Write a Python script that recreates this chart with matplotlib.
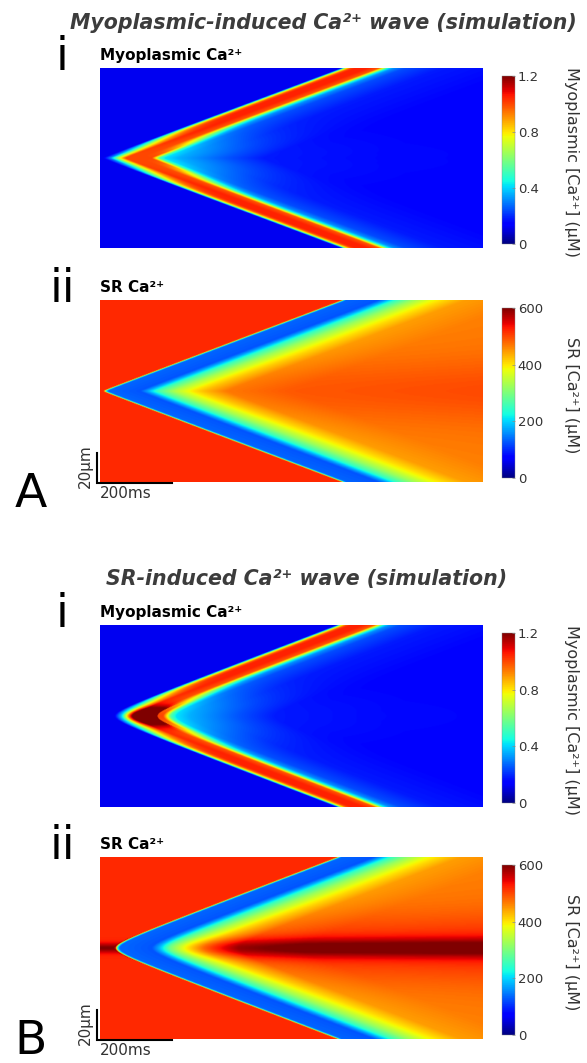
import numpy as np
import matplotlib
matplotlib.use("Agg")
import matplotlib.pyplot as plt

plt.rcParams['font.family'] = ['DejaVu Sans']

# ---- recording geometry ----
T_MS = 1020          # duration shown, ms
X_HALF = 60          # half length of the scanned line, um

# wave start / speed / tip rounding for panel A (myoplasmic) and B (SR)
WAVE_A = dict(t0=8., v=0.094, r=0.5)
WAVE_B = dict(t0=38., v=0.095, r=4.0)

# myoplasmic Ca2+ (uM) vs time after the front passes (ms)
MYO_TAU = [-2000, 0, 5, 13, 25, 37, 70, 101, 112, 125, 140, 170, 270, 500, 1100]
MYO_EDGE = [0.12, 0.12, 0.40, 0.75, 0.98, 1.05, 1.05, 0.98, 0.75, 0.45, 0.32,
            0.24, 0.18, 0.15, 0.14]
MYO_AXIS_TAU = [-2000, 0, 20, 45, 61, 130, 140, 150, 165, 200, 330, 430, 700, 1100]
MYO_AXIS = [0.12, 0.12, 0.30, 0.75, 1.00, 1.00, 0.80, 0.55, 0.42, 0.36, 0.25,
            0.18, 0.16, 0.15]

# SR Ca2+ (uM) vs time after the front passes (ms)
SR_TAU = [-2000, 0, 3, 8, 14, 100, 120, 147, 190, 240, 270, 330, 500, 1100]
SR_EDGE = [520, 520, 420, 220, 135, 125, 170, 250, 320, 380, 405, 445, 465, 475]

MYO_TICKS = [0, 0.4, 0.8, 1.2]
SR_TICKS = [0, 200, 400, 600]

W, H = 587, 1063


def rect(x0, top, w, h):
    return [x0 / W, 1 - (top + h) / H, w / W, h / H]


t = np.arange(0, T_MS + 1, 1.0)
x = np.linspace(-X_HALF, X_HALF, 241)


def tau_grid(p):
    tf = p['t0'] + (np.sqrt(x ** 2 + p['r'] ** 2) - p['r']) / p['v']
    return t[None, :] - tf[:, None]


def myo_field(p, apex_boost=0.0):
    tau = tau_grid(p)
    edge = np.interp(tau, MYO_TAU, MYO_EDGE)
    axis = np.interp(tau, MYO_AXIS_TAU, MYO_AXIS)
    w = np.exp(-x ** 2 / (2 * 10. ** 2))[:, None]
    ca = w * axis + (1 - w) * edge
    base = MYO_EDGE[0]
    band = (tau < 115) * 1.0
    boost = apex_boost * np.exp(-x ** 2 / (2 * 4. ** 2))[:, None] * band
    return base + (ca - base) * (1 + boost)


def sr_field(p, core=0.0, spark=0.0):
    tau = tau_grid(p)
    sr = np.interp(tau, SR_TAU, SR_EDGE)
    frac = np.clip((sr - 125) / (470 - 125), 0, 1) * (tau > 0)
    sr = sr + 25 * np.exp(-x ** 2 / (2 * 15 ** 2))[:, None] * frac
    sr = sr + core * (np.exp(-x ** 2 / (2 * 4.5 ** 2)) +
                      0.25 * np.exp(-x ** 2 / (2 * 16 ** 2)))[:, None] * frac ** 1.5
    sr = sr + spark * np.exp(-x ** 2 / (2 * 2.2 ** 2))[:, None] * (tau < 0)
    return sr


panels = [
    # top, height, field, vmax, ticks, title, cbar label, roman numeral
    (68, 180, myo_field(WAVE_A), 1.2, MYO_TICKS, 'Myoplasmic Ca²⁺',
     'Myoplasmic [Ca²⁺] (µM)', 'i'),
    (300, 182, sr_field(WAVE_A), 600, SR_TICKS, 'SR Ca²⁺',
     'SR [Ca²⁺] (µM)', 'ii'),
    (625, 182, myo_field(WAVE_B, apex_boost=0.6), 1.2, MYO_TICKS,
     'Myoplasmic Ca²⁺', 'Myoplasmic [Ca²⁺] (µM)', 'i'),
    (857, 182, sr_field(WAVE_B, core=105, spark=80), 600, SR_TICKS, 'SR Ca²⁺',
     'SR [Ca²⁺] (µM)', 'ii'),
]

fig = plt.figure(figsize=(W / 100, H / 100), dpi=100)

for top, h, field, vmax, ticks, lab, cblab, roman in panels:
    ax = fig.add_axes(rect(100, top, 383, h))
    im = ax.imshow(field, origin='lower', aspect='auto', cmap='jet',
                   vmin=0, vmax=vmax, interpolation='bilinear',
                   extent=[0, T_MS, -X_HALF, X_HALF])
    ax.set_axis_off()
    fig.text(100 / W, 1 - (top - 8) / H, lab, fontsize=11,
             fontweight='bold', ha='left', va='baseline')
    fig.text(62 / W, 1 - (top + 2) / H, roman, fontsize=33,
             ha='center', va='baseline')

    cax = fig.add_axes(rect(502, top + 8, 13, h - 12))
    cb = fig.colorbar(im, cax=cax, ticks=ticks)
    cb.outline.set_linewidth(0.3)
    cb.outline.set_edgecolor('#888888')
    cax.tick_params(labelsize=9.5, length=2, width=0.5, colors='#888888',
                    labelcolor='#333333', direction='in', pad=2)
    cax.set_yticklabels([('%g' % v) for v in ticks])
    fig.text(571 / W, 1 - (top + h / 2 + 4) / H, cblab, rotation=270,
             fontsize=11.5, color='#333333', ha='center', va='center')

    if roman == 'ii':
        # 20 um / 200 ms scale bar in data units
        t_off = -8.
        y_off = -X_HALF - 0.7
        ax.plot([t_off, t_off, t_off + 200], [y_off + 20, y_off, y_off],
                color='black', lw=1.5, clip_on=False, solid_joinstyle='miter')
        ax.text(t_off - 30, y_off + 11, '20µm', rotation=90, ha='center',
                va='center', fontsize=11, color='#333333')
        ax.text(t_off + 8, y_off - 2, '200ms', ha='left', va='top',
                fontsize=11, color='#333333')
    ax.set_xlim(0, T_MS)
    ax.set_ylim(-X_HALF, X_HALF)

fig.text(323 / W, 1 - 23 / H, 'Myoplasmic-induced Ca²⁺ wave (simulation)',
         fontsize=14.8, fontweight='bold', style='italic', color='#3c3c3c',
         ha='center', va='center')
fig.text(307 / W, 1 - 579 / H, 'SR-induced Ca²⁺ wave (simulation)',
         fontsize=14.8, fontweight='bold', style='italic', color='#3c3c3c',
         ha='center', va='center')
fig.text(31 / W, 1 - 507 / H, 'A', fontsize=34, ha='center', va='baseline')
fig.text(31 / W, 1 - 1054 / H, 'B', fontsize=34, ha='center', va='baseline')

fig.savefig('out.png', dpi=100, facecolor='white')
